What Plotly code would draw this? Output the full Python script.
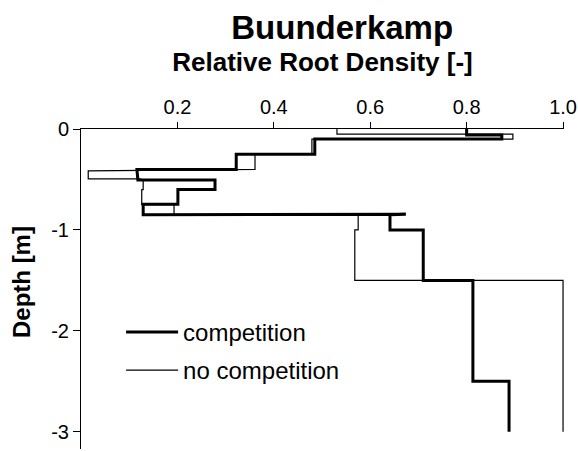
import plotly.graph_objects as go

# Relative root density profiles (step profiles traced as polylines)
competition_value = [0.80, 0.80, 0.873, 0.873, 0.485, 0.485, 0.322, 0.322, 0.116, 0.118,
                     0.278, 0.278, 0.201, 0.201, 0.129, 0.129, 0.674, 0.641, 0.641, 0.710,
                     0.710, 0.813, 0.813, 0.888, 0.888]
competition_depth = [0.0, -0.06, -0.06, -0.10, -0.10, -0.25, -0.25, -0.40, -0.40, -0.505,
                     -0.505, -0.60, -0.60, -0.745, -0.745, -0.85, -0.845, -0.85, -1.0, -1.0,
                     -1.5, -1.5, -2.5, -2.5, -3.0]

no_competition_value = [0.531, 0.531, 0.896, 0.896, 0.479, 0.479, 0.361, 0.361, 0.015, 0.015,
                        0.122, 0.129, 0.129, 0.126, 0.126, 0.193, 0.193, 0.575, 0.575, 0.568,
                        0.568, 1.0, 1.0]
no_competition_depth = [0.0, -0.05, -0.05, -0.10, -0.10, -0.25, -0.25, -0.40, -0.415, -0.495,
                        -0.495, -0.505, -0.60, -0.60, -0.75, -0.75, -0.85, -0.85, -1.0, -1.0,
                        -1.5, -1.5, -3.0]

x_ticks = [0.2, 0.4, 0.6, 0.8, 1.0]
x_tick_labels = ["0.2", "0.4", "0.6", "0.8", "1.0"]
y_ticks = [0, -1, -2, -3]
y_tick_labels = ["0", "-1", "-2", "-3"]

FONT = "Arial, Liberation Sans, sans-serif"

fig = go.Figure()
fig.add_trace(go.Scatter(x=competition_value, y=competition_depth, mode="lines",
                         name="competition", legendgroup="a",
                         line=dict(color="black", width=3)))
fig.add_trace(go.Scatter(x=no_competition_value, y=no_competition_depth, mode="lines",
                         name="no competition", legendgroup="b",
                         line=dict(color="black", width=1.2)))

fig.update_layout(
    width=578, height=451,
    margin=dict(l=81, r=14, t=129, b=2),
    paper_bgcolor="white", plot_bgcolor="white",
    font=dict(family=FONT, color="black", size=20),
    title=dict(text="<b>Buunderkamp</b>", x=0.592, xref="container", xanchor="center",
               y=1 - 27 / 451, yref="container", yanchor="middle",
               font=dict(size=33, family=FONT, color="black")),
    showlegend=True,
    legend=dict(x=0.083, y=0.435, xanchor="left", yanchor="top", bgcolor="rgba(0,0,0,0)",
                font=dict(size=24, family=FONT), tracegroupgap=4, itemwidth=52),
    xaxis=dict(range=[0, 1.002], side="top", tickvals=x_ticks, ticktext=x_tick_labels,
               ticks="outside", ticklen=6, tickwidth=1, tickcolor="black", automargin=False,
               showline=True, linecolor="black", linewidth=1, showgrid=False, zeroline=False,
               tickfont=dict(size=20, family=FONT),
               title=dict(text="<b>Relative Root Density [-]</b>", standoff=16,
                          font=dict(size=26, family=FONT))),
    yaxis=dict(range=[-3.17, 0], tickvals=y_ticks, ticktext=y_tick_labels,
               ticks="outside", ticklen=7, tickwidth=1, tickcolor="black", automargin=False,
               showline=True, linecolor="black", linewidth=1, showgrid=False, zeroline=False,
               tickfont=dict(size=20, family=FONT)),
    annotations=[dict(text="<b>Depth [m]</b>", textangle=-90, xref="paper", yref="paper",
                      x=-0.122, y=0.522, xanchor="center", yanchor="middle",
                      showarrow=False, font=dict(size=24, family=FONT, color="black"))],
)

fig.write_html("out.html", config={"displayModeBar": False},
               post_script="document.body.style.margin='0';document.body.style.padding='0';")
